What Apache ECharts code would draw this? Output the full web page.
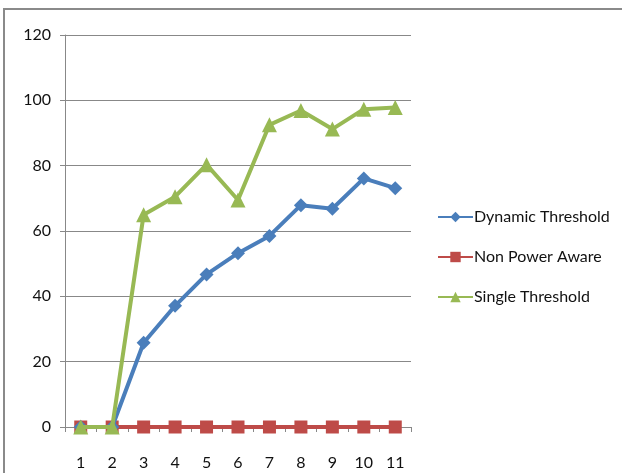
<!DOCTYPE html>
<html><head><meta charset="utf-8">
<script src="https://cdn.jsdelivr.net/npm/echarts@6/dist/echarts.min.js"></script>
<style>html,body{margin:0;padding:0;background:#fff}#c{width:622px;height:473px}</style>
</head><body><div id="c"></div>
<script>
const categories = ['1','2','3','4','5','6','7','8','9','10','11'];
const dynamicThreshold = [0, 0, 25.8, 37.1, 46.7, 53.2, 58.5, 67.9, 66.8, 76.1, 73.1];
const nonPowerAware = [0, 0, 0, 0, 0, 0, 0, 0, 0, 0, 0];
const singleThreshold = [0, 0, 65, 70.5, 80.3, 69.5, 92.5, 96.9, 91.2, 97.3, 97.8];
const yTicks = {min: 0, max: 120, interval: 20};

const font = 'Lato, "Open Sans", sans-serif';
const chart = echarts.init(document.getElementById('c'));
chart.setOption({
  animation: false,
  graphic: [{type:'rect', shape:{x:4, y:9, width:700, height:600}, style:{fill:'none', stroke:'#8a8a8a', lineWidth:2}}],
  grid: {left: 65, right: 211, top: 35, bottom: 46},
  legend: {
    orient: 'vertical', left: 432, top: 204, itemGap: 24, itemWidth: 35, itemHeight: 13,
    textStyle: {fontFamily: font, fontSize: 16, color: '#111', padding:[0,0,0,-4]},
    data: ['Dynamic Threshold', 'Non Power Aware', 'Single Threshold']
  },
  xAxis: {
    type: 'category', data: categories, boundaryGap: true,
    axisLine: {lineStyle: {color: '#888', width: 1}},
    axisTick: {show: true, length: 5, lineStyle: {color: '#888'}},
    axisLabel: {fontFamily: font, fontSize: 16, color: '#111', margin: 28}
  },
  yAxis: {
    type: 'value', min: yTicks.min, max: yTicks.max, interval: yTicks.interval,
    axisLine: {show: true, lineStyle: {color: '#888'}},
    axisTick: {show: true, length: 5, lineStyle: {color: '#888'}},
    splitLine: {lineStyle: {color: '#888', width: 1}},
    axisLabel: {fontFamily: font, fontSize: 16, color: '#111', margin: 14}
  },
  series: [
    {name: 'Dynamic Threshold', type: 'line', data: dynamicThreshold, symbol: 'diamond', symbolSize: 14,
     itemStyle: {color: '#4a7ebb'}, lineStyle: {width: 4, color: '#4a7ebb'}, z: 3},
    {name: 'Non Power Aware', type: 'line', data: nonPowerAware, symbol: 'rect', symbolSize: 13,
     itemStyle: {color: '#be4b48'}, lineStyle: {width: 4, color: '#be4b48'}, z: 2},
    {name: 'Single Threshold', type: 'line', data: singleThreshold, symbol: 'triangle', symbolSize: 15,
     itemStyle: {color: '#98b954'}, lineStyle: {width: 4, color: '#98b954'}, z: 4}
  ]
});
</script></body></html>
